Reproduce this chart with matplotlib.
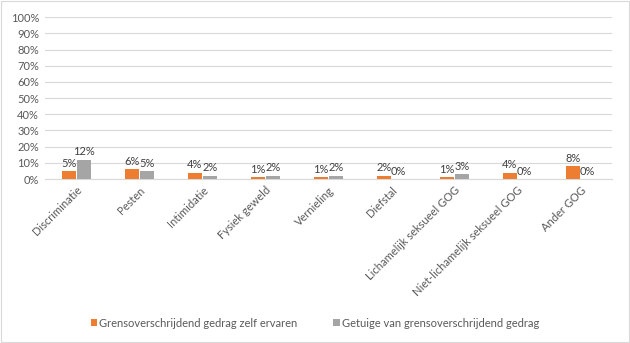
import numpy as np
import matplotlib.pyplot as plt

plt.rcParams['font.family'] = ['Lato', 'DejaVu Sans']

categories = ["Discriminatie", "Pesten", "Intimidatie", "Fysiek geweld", "Vernieling",
              "Diefstal", "Lichamelijk seksueel GOG", "Niet-lichamelijk seksueel GOG", "Ander GOG"]
zelf_ervaren = [5, 6, 4, 1, 1, 2, 1, 4, 8]
getuige = [12, 5, 2, 2, 2, 0, 3, 0, 0]
series_names = ["Grensoverschrijdend gedrag zelf ervaren", "Getuige van grensoverschrijdend gedrag"]

text_color = "#595959"
orange = "#ED7D31"
grey = "#A5A5A5"

fig = plt.figure(figsize=(6.3, 3.43), dpi=100)
ax = fig.add_axes([0.071, 0.478, 0.900, 0.472])

x = np.arange(len(categories))
w = 0.22
b1 = ax.bar(x - 0.12, zelf_ervaren, w, color=orange, label=series_names[0], zorder=3)
b2 = ax.bar(x + 0.12, getuige, w, color=grey, label=series_names[1], zorder=3)

for bars, vals in ((b1, zelf_ervaren), (b2, getuige)):
    for rect, v in zip(bars, vals):
        ax.text(rect.get_x() + rect.get_width() / 2, v + 1.5, f"{v}%",
                ha="center", va="bottom", fontsize=8, color="#404040")

ax.set_xlim(-0.5, len(categories) - 0.5)
ax.set_ylim(0, 100)
ax.set_yticks(range(0, 101, 10))
ax.set_yticklabels([f"{t}%" for t in range(0, 101, 10)], fontsize=8, color=text_color)
ax.set_xticks(x)
ax.set_xticklabels(categories, rotation=45, ha="right", rotation_mode="anchor",
                   fontsize=8, color=text_color)
ax.tick_params(axis="both", length=0, pad=4)
ax.grid(axis="y", color="#D9D9D9", linewidth=0.8, zorder=0)
for side in ("top", "right", "left"):
    ax.spines[side].set_visible(False)
ax.spines["bottom"].set_color("#D9D9D9")

fig.legend(handles=[b1, b2], loc="center", bbox_to_anchor=(0.5, 0.058), ncol=2,
           frameon=False, fontsize=8, handlelength=0.6, handleheight=0.6,
           handletextpad=0.2, columnspacing=3.2, labelcolor=text_color)

border = plt.Rectangle((0.001, 0.002), 0.997, 0.995, transform=fig.transFigure,
                       fill=False, edgecolor="#D9D9D9", linewidth=0.8)
fig.patches.append(border)

fig.savefig("out.png", dpi=100)
